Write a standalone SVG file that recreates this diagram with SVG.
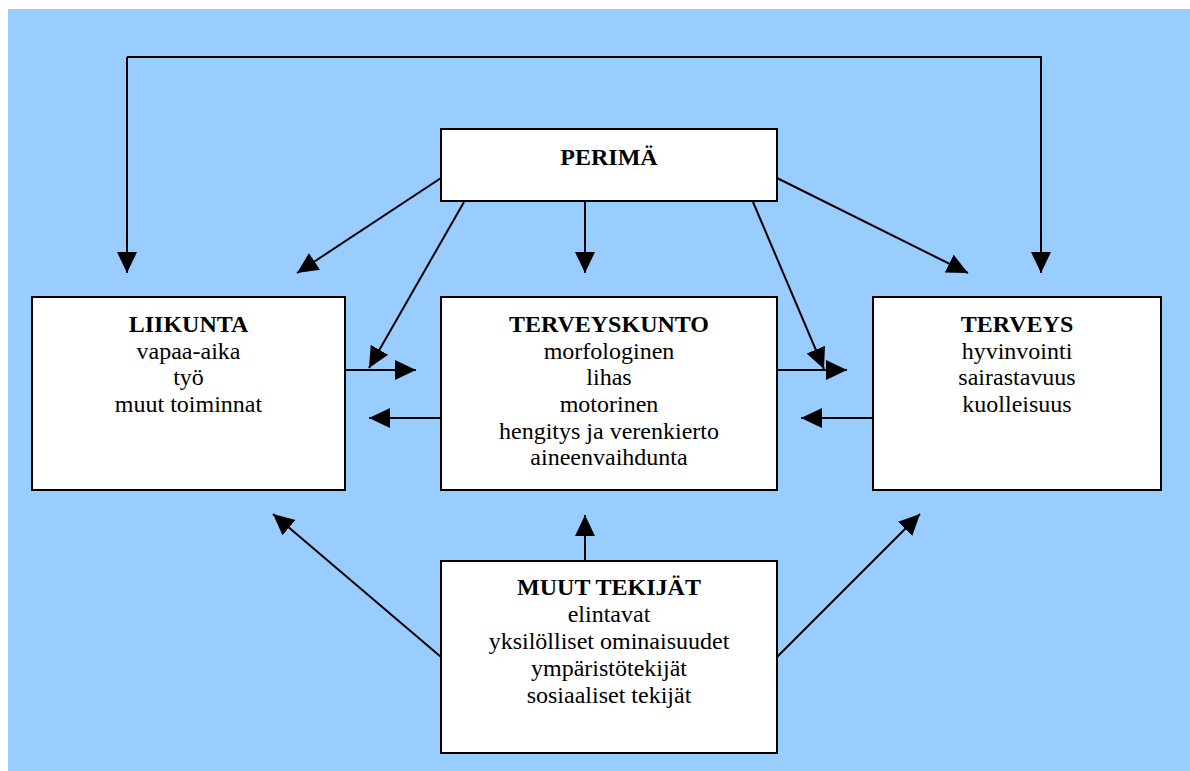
<svg xmlns="http://www.w3.org/2000/svg" width="1190" height="771" viewBox="0 0 1190 771">
<defs>
<style>
.box{fill:#fff;stroke:#000;stroke-width:2}
.c{fill:none;stroke:#000;stroke-width:2}
text{font-family:"Liberation Serif","DejaVu Serif",serif;font-size:24px;fill:#000;text-anchor:middle}
.b{font-weight:bold}
</style>
<marker id="ah" markerUnits="userSpaceOnUse" markerWidth="22" markerHeight="22" viewBox="0 0 22 22" refX="21" refY="11" orient="auto">
<path d="M0,1 L21,11 L0,21 Z" fill="#000"/>
</marker>
</defs>
<rect x="8" y="9" width="1182" height="762" fill="#99CCFF"/>
<g id="connectors">
<polyline class="c" points="127,57 1041,57 1041,273" marker-end="url(#ah)"/>
<line class="c" x1="127" y1="57" x2="127" y2="273" marker-end="url(#ah)"/>
<line class="c" x1="441" y1="178" x2="297" y2="273" marker-end="url(#ah)"/>
<line class="c" x1="464" y1="202" x2="369" y2="368" marker-end="url(#ah)"/>
<line class="c" x1="345" y1="370" x2="416" y2="370" marker-end="url(#ah)"/>
<line class="c" x1="585" y1="202" x2="585" y2="273" marker-end="url(#ah)"/>
<line class="c" x1="777" y1="178" x2="968" y2="273" marker-end="url(#ah)"/>
<line class="c" x1="753" y1="202" x2="824" y2="369" marker-end="url(#ah)"/>
<line class="c" x1="777" y1="370" x2="847" y2="370" marker-end="url(#ah)"/>
<line class="c" x1="441" y1="418" x2="369" y2="418" marker-end="url(#ah)"/>
<line class="c" x1="873" y1="418" x2="801" y2="418" marker-end="url(#ah)"/>
<line class="c" x1="585" y1="561" x2="585" y2="515" marker-end="url(#ah)"/>
<line class="c" x1="441" y1="657" x2="273" y2="514" marker-end="url(#ah)"/>
<line class="c" x1="777" y1="657" x2="920" y2="514" marker-end="url(#ah)"/>
</g>
<g id="perima">
<rect class="box" x="441" y="129" width="336" height="72"/>
<text class="b" x="609" y="165">PERIMÄ</text>
</g>
<g id="liikunta">
<rect class="box" x="32" y="297" width="313" height="193"/>
<text class="b" x="188.5" y="332">LIIKUNTA</text>
<text x="188.5" y="358.5">vapaa-aika</text>
<text x="188.5" y="385">työ</text>
<text x="188.5" y="412">muut toiminnat</text>
</g>
<g id="terveyskunto">
<rect class="box" x="441" y="297" width="336" height="193"/>
<text class="b" x="609" y="332">TERVEYSKUNTO</text>
<text x="609" y="358.5">morfologinen</text>
<text x="609" y="385">lihas</text>
<text x="609" y="412">motorinen</text>
<text x="609" y="438.5">hengitys ja verenkierto</text>
<text x="609" y="465">aineenvaihdunta</text>
</g>
<g id="terveys">
<rect class="box" x="873" y="297" width="288" height="193"/>
<text class="b" x="1017" y="332">TERVEYS</text>
<text x="1017" y="358.5">hyvinvointi</text>
<text x="1017" y="385">sairastavuus</text>
<text x="1017" y="412">kuolleisuus</text>
</g>
<g id="muut">
<rect class="box" x="441" y="561" width="336" height="192"/>
<text class="b" x="609" y="595">MUUT TEKIJÄT</text>
<text x="609" y="622">elintavat</text>
<text x="609" y="649">yksilölliset ominaisuudet</text>
<text x="609" y="676">ympäristötekijät</text>
<text x="609" y="703">sosiaaliset tekijät</text>
</g>
</svg>
